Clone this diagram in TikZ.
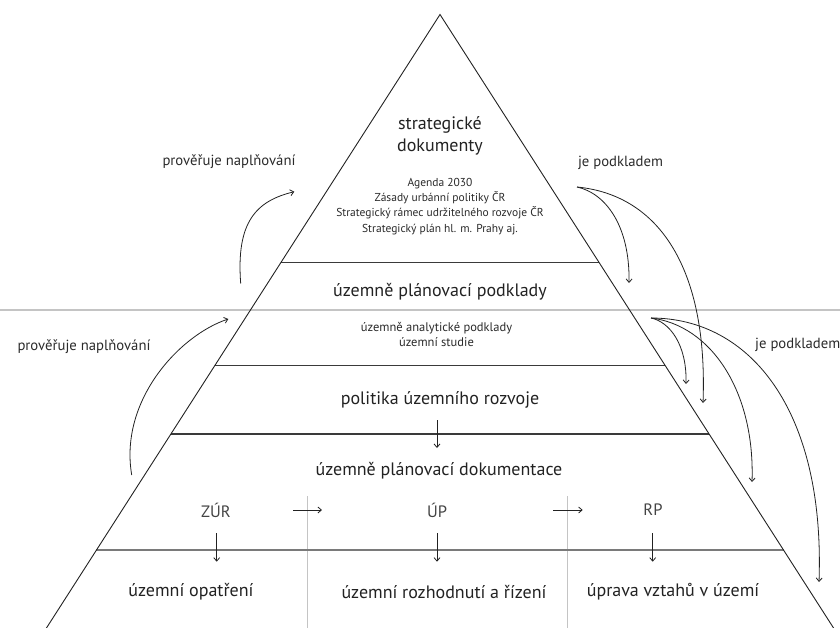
\documentclass[tikz,border=0pt]{standalone}
\usepackage{fontspec}
\setmainfont{PT Sans}
\usetikzlibrary{arrows.meta}
\definecolor{ink}{HTML}{222222}
\definecolor{txt}{HTML}{2A2A2A}
\definecolor{soft}{HTML}{444444}
\definecolor{band}{HTML}{3A3A3A}
\definecolor{bandgray}{HTML}{7A7A7A}
\definecolor{lightline}{HTML}{C4C4C4}
\begin{document}
\begin{tikzpicture}[x=1pt,y=-1pt,
  title/.style={font=\fontsize{18}{21.7}\selectfont, text=ink, inner sep=0pt, align=center},
  list/.style={font=\fontsize{11.5}{15.3}\selectfont, text=txt, inner sep=0pt, align=center},
  sublist/.style={font=\fontsize{12.5}{15}\selectfont, text=txt, inner sep=0pt, align=center},
  sidelabel/.style={font=\fontsize{14.7}{16}\selectfont, text=txt, inner sep=0pt},
  abbr/.style={font=\fontsize{16.5}{18}\selectfont, text=soft, inner sep=0pt},
  edge/.style={draw=ink, line width=0.9pt},
  bandline/.style={draw=band, line width=1.2pt},
  conn/.style={draw=ink, line width=0.8pt, -{Straight Barb[length=3.5pt,width=6pt]}},
]
\useasboundingbox (0,0) rectangle (840,627);
\begin{scope}
\clip (0,0) rectangle (840,627);
% light horizontal and vertical lines
\draw[lightline, line width=1.3pt] (0,310) -- (840,310);
\draw[lightline, line width=1.3pt] (307.7,496) -- (307.7,640);
\draw[lightline, line width=1.3pt] (567.8,496) -- (567.8,640);
% band lines
\draw[bandline] (280.8,262.7) -- (599.2,262.7);
\draw[bandline] (214.7,365.7) -- (665.3,365.7);
\draw[bandline] (170.8,434) -- (709.2,434);
\draw[draw=bandgray, line width=1.8pt] (96.4,550) -- (783.6,550);
% pyramid sides
\coordinate (apex) at (440,14.5);
\draw[edge] (31.7,651) -- (apex) -- (848.3,651);
\end{scope}

% texts
\node[title] (sd) at (440,136) {strategické\\dokumenty};
\node[list] (sdl) at (440,206.4) {Agenda 2030\\Zásady urbánní politiky ČR\\Strategický rámec udržitelného rozvoje ČR\\Strategický plán hl. m. Prahy aj.};
\node[title] (upp) at (440,291.7) {územně plánovací podklady};
\node[sublist] (uppl) at (436.5,334) {územně analytické podklady\\územní studie};
\node[title] (pur) at (440,400) {politika územního rozvoje};
\node[title] (upd) at (439,470.7) {územně plánovací dokumentace};
\node[abbr] (zur) at (216,510) {ZÚR};
\node[abbr] (up) at (437,510) {ÚP};
\node[abbr] (rp) at (653,510) {RP};
\node[title] (uo) at (191,592) {územní opatření};
\node[title] (urr) at (444,592) {územní rozhodnutí a řízení};
\node[title] (uvu) at (673,592) {úprava vztahů v území};

\node[sidelabel] (pn1) at (229,162) {prověřuje naplňování};
\node[sidelabel] (pn2) at (84,346.7) {prověřuje naplňování};
\node[sidelabel] (jp1) at (620.5,163) {je podkladem};
\node[sidelabel, anchor=west] (jp2) at (755,345) {je podkladem};

% straight arrows
\coordinate (a1s) at (437,420); \coordinate (a1e) at (437,448);
\draw[conn] (a1s) -- (a1e);
\coordinate (zs) at (216.7,533); \coordinate (ze) at (216.7,561.7);
\draw[conn] (zs) -- (ze);
\coordinate (us) at (437,533); \coordinate (ue) at (437,561.7);
\draw[conn] (us) -- (ue);
\coordinate (rs) at (652.7,533); \coordinate (re) at (652.7,561.7);
\draw[conn] (rs) -- (re);
\coordinate (h1s) at (293,510); \coordinate (h1e) at (322,510);
\draw[conn] (h1s) -- (h1e);
\coordinate (h2s) at (553,510); \coordinate (h2e) at (582.7,510);
\draw[conn] (h2s) -- (h2e);

% curved arrows right
\coordinate (r1) at (577,187);
\coordinate (r1a) at (629,283);
\coordinate (r1b) at (703,403);
\draw[conn] (r1) .. controls (605,193) and (630,225) .. (r1a);
\draw[conn] (r1) .. controls (660,195) and (708,270) .. (r1b);
\coordinate (r2) at (651,318);
\coordinate (r2a) at (686,384);
\coordinate (r2b) at (752,482);
\coordinate (r2c) at (819,582);
\draw[conn] (r2) .. controls (670,322) and (687,345) .. (r2a);
\draw[conn] (r2) .. controls (710,325) and (755,390) .. (r2b);
\draw[conn] (r2) .. controls (750,318) and (825,410) .. (r2c);

% curved arrows left
\coordinate (l1s) at (131.7,475);
\coordinate (l1e) at (228.3,319);
\draw[conn] (l1s) .. controls (119,400) and (180,335) .. (l1e);
\coordinate (l2s) at (240.7,283.5);
\coordinate (l2e) at (294.3,191.7);
\draw[conn] (l2s) .. controls (236,222) and (256,201) .. (l2e);
\end{tikzpicture}
\end{document}
